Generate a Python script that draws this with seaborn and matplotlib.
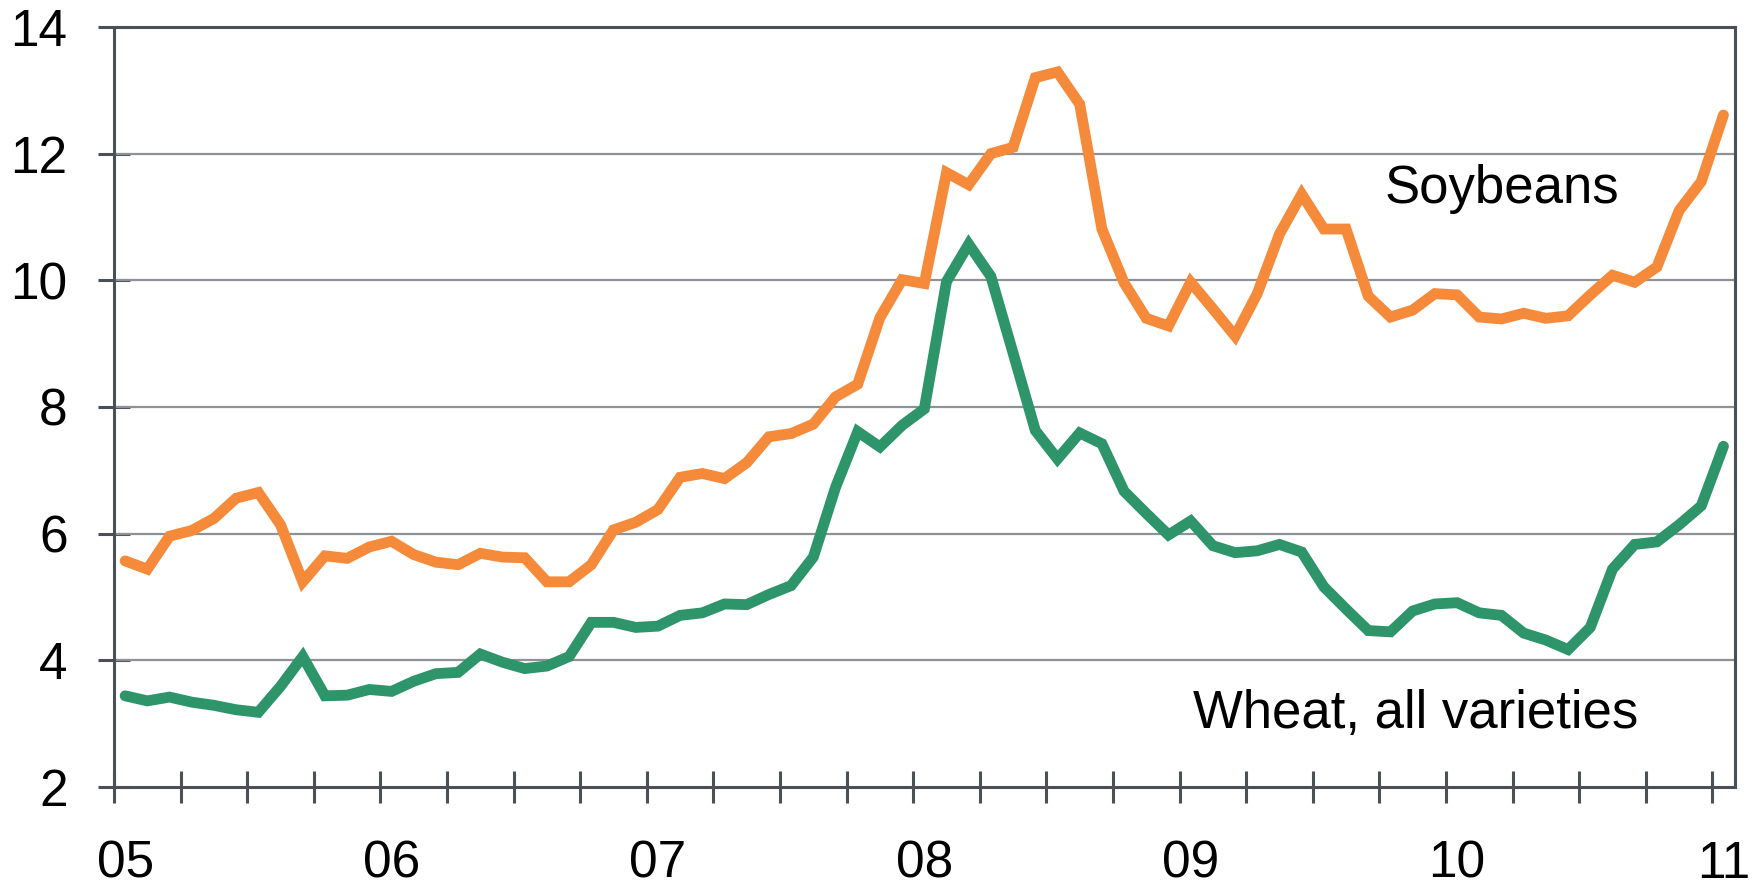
import numpy as np
import pandas as pd
import matplotlib
matplotlib.use("Agg")
import matplotlib.pyplot as plt
import seaborn as sns

# monthly prices, Jan 2005 .. Jan 2011
soybeans = [5.57, 5.44, 5.96, 6.05, 6.24, 6.56, 6.65, 6.14, 5.24, 5.65, 5.61, 5.79,
            5.88, 5.67, 5.55, 5.51, 5.69, 5.63, 5.62, 5.24, 5.24, 5.51, 6.06, 6.18,
            6.38, 6.89, 6.95, 6.87, 7.12, 7.53, 7.58, 7.73, 8.16, 8.36, 9.41, 10.01,
            9.95, 11.70, 11.51, 12.00, 12.10, 13.20, 13.29, 12.78, 10.81, 9.96, 9.40, 9.28,
            9.97, 9.55, 9.12, 9.79, 10.73, 11.36, 10.81, 10.81, 9.75, 9.42, 9.53, 9.79,
            9.77, 9.42, 9.39, 9.48, 9.40, 9.44, 9.77, 10.08, 9.97, 10.21, 11.10, 11.56,
            12.61]
wheat = [3.44, 3.36, 3.42, 3.34, 3.29, 3.22, 3.18, 3.59, 4.06, 3.44, 3.45, 3.54,
         3.51, 3.67, 3.79, 3.81, 4.10, 3.97, 3.87, 3.91, 4.06, 4.60, 4.60, 4.52,
         4.54, 4.71, 4.75, 4.89, 4.88, 5.04, 5.18, 5.63, 6.73, 7.61, 7.37, 7.71,
         7.97, 9.98, 10.57, 10.06, 8.85, 7.63, 7.18, 7.59, 7.42, 6.67, 6.32, 5.98,
         6.20, 5.81, 5.70, 5.73, 5.83, 5.71, 5.16, 4.81, 4.47, 4.45, 4.78, 4.89,
         4.91, 4.75, 4.71, 4.43, 4.32, 4.17, 4.52, 5.44, 5.83, 5.87, 6.14, 6.44,
         7.38]
years = [2005, 2006, 2007, 2008, 2009, 2010, 2011]
year_labels = ["05", "06", "07", "08", "09", "10", "11"]
y_ticks = [2, 4, 6, 8, 10, 12, 14]

# mid-month positions in fractional years
months = 2005 + (np.arange(len(soybeans)) + 0.5) / 12
df = pd.DataFrame({"month": months, "Soybeans": soybeans, "Wheat": wheat})

sns.set_style("white")
plt.rcParams["font.family"] = ["Liberation Sans", "DejaVu Sans"]
plt.rcParams["text.color"] = "black"

frame_col = "#4b5057"
fig = plt.figure(figsize=(17.6, 8.9), dpi=100)
ax = fig.add_axes([0.0648, 0.1157, 0.9210, 0.8540])

sns.lineplot(data=df, x="month", y="Soybeans", ax=ax, color="#F58B3A", zorder=3)
sns.lineplot(data=df, x="month", y="Wheat", ax=ax, color="#2E9469", zorder=3)
for ln in ax.lines:
    ln.set_linewidth(7.8)
    ln.set_solid_capstyle("round")
    ln.set_solid_joinstyle("miter")

ax.set_xlim(2005, 2011.085)
ax.set_ylim(2, 14)

# horizontal grid
for v in y_ticks[1:-1]:
    ax.axhline(v, color="#8e9196", linewidth=1.6, zorder=1)

for s in ax.spines.values():
    s.set_color(frame_col)
    s.set_linewidth(2.2)
    s.set_zorder(4)

ax.set_yticks(y_ticks)
ax.set_yticklabels([str(v) for v in y_ticks])
ax.tick_params(axis="y", left=True, direction="inout", length=23, width=2.2,
               color=frame_col, labelsize=37, labelcolor="black", pad=22)

# quarterly ticks, year labels at mid January
quarters = np.arange(2005, 2011.01, 0.25)
ax.set_xticks(quarters)
ax.set_xticklabels([""] * len(quarters))
ax.tick_params(axis="x", which="major", bottom=True, direction="inout", length=23,
               width=2.2, color=frame_col)
ax.set_xticks([y + 0.5 / 12 for y in years], minor=True)
ax.set_xticklabels(year_labels, minor=True)
ax.tick_params(axis="x", which="minor", bottom=True, length=0, labelsize=37,
               labelcolor="black", pad=38)

ax.set_xlabel("")
ax.set_ylabel("")

ax.text(2009.771, 11.22, "Soybeans", fontsize=38, color="black", ha="left", va="baseline")
ax.text(2009.050, 2.93, "Wheat, all varieties", fontsize=38, color="black",
        ha="left", va="baseline")

fig.savefig("out.png", dpi=100, facecolor="white")
